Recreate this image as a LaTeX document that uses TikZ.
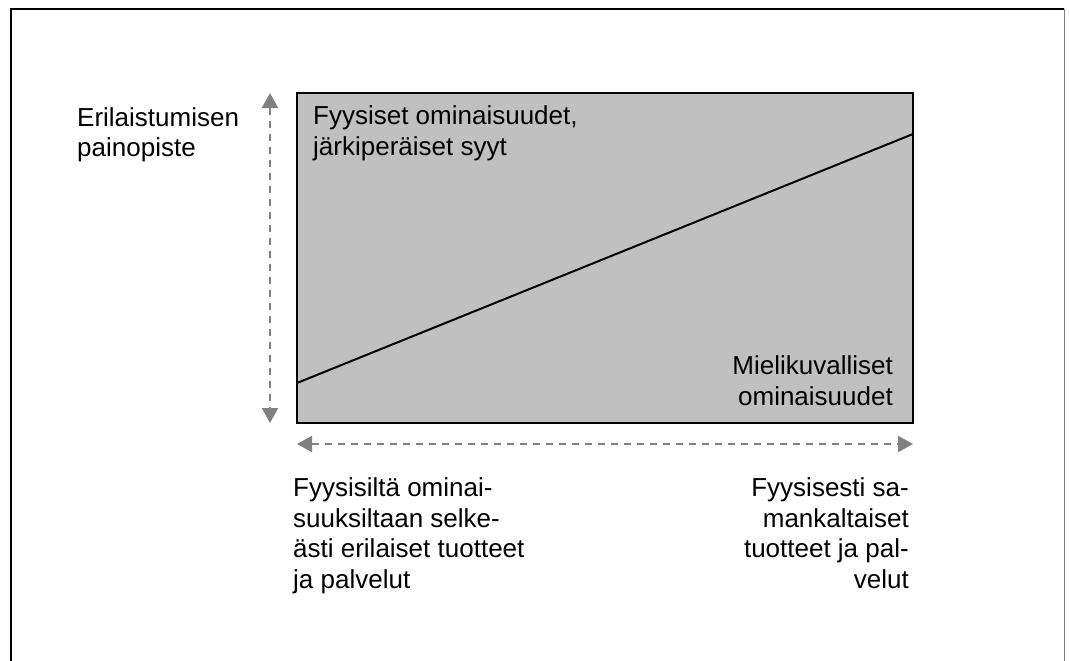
\documentclass[tikz,border=0pt]{standalone}
\usepackage{fontspec}
\setmainfont{Liberation Sans}
\usetikzlibrary{arrows.meta}
\definecolor{boxgray}{HTML}{C0C0C0}
\definecolor{axisgray}{HTML}{808080}
\tikzset{
  lbl/.style={inner sep=0pt, font=\fontsize{26}{30.5}\selectfont},
  axisarrow/.style={axisgray, line width=2pt, dash pattern=on 7pt off 6pt,
    {Triangle[width=16pt,length=15pt]}-{Triangle[width=16pt,length=15pt]}},
  areabox/.style={draw=black, fill=boxgray, line width=2pt}
}
\begin{document}
\begin{tikzpicture}[x=1pt,y=-1pt]
  \useasboundingbox (0,0) rectangle (1069,661);
  % frame
  \draw[black, line width=2.2pt] (11,661) -- (11,9) -- (1064,9);
  \draw[axisgray, line width=1pt] (1064,9) -- (1064,661);
  % shaded area
  \draw[areabox] (297,93) rectangle (913,423);
  \coordinate (lo) at (297,383);
  \coordinate (hi) at (913,134);
  \draw[black, line width=2pt] (lo) -- (hi);
  % axes
  \coordinate (vtop) at (270,93);
  \coordinate (vbot) at (270,423);
  \coordinate (hleft) at (297,444);
  \coordinate (hright) at (913,444);
  \draw[axisarrow] (vtop) -- (vbot);
  \draw[axisarrow] (hleft) -- (hright);
  % labels (anchored on the baseline of their last line)
  \node[lbl, anchor=base west, align=left] (ylab) at (77,157) {Erilaistumisen\\painopiste};
  \node[lbl, anchor=base west, align=left] (phys) at (313,155) {Fyysiset ominaisuudet,\\järkiperäiset syyt};
  \node[lbl, anchor=base east, align=right] (img) at (893,405) {Mielikuvalliset\\ominaisuudet};
  \node[lbl, anchor=base west, align=left] (xl) at (293,588) {Fyysisiltä ominai-\\suuksiltaan selke-\\ästi erilaiset tuotteet\\ja palvelut};
  \node[lbl, anchor=base east, align=right] (xr) at (909,588) {Fyysisesti sa-\\mankaltaiset\\tuotteet ja pal-\\velut};
\end{tikzpicture}
\end{document}
